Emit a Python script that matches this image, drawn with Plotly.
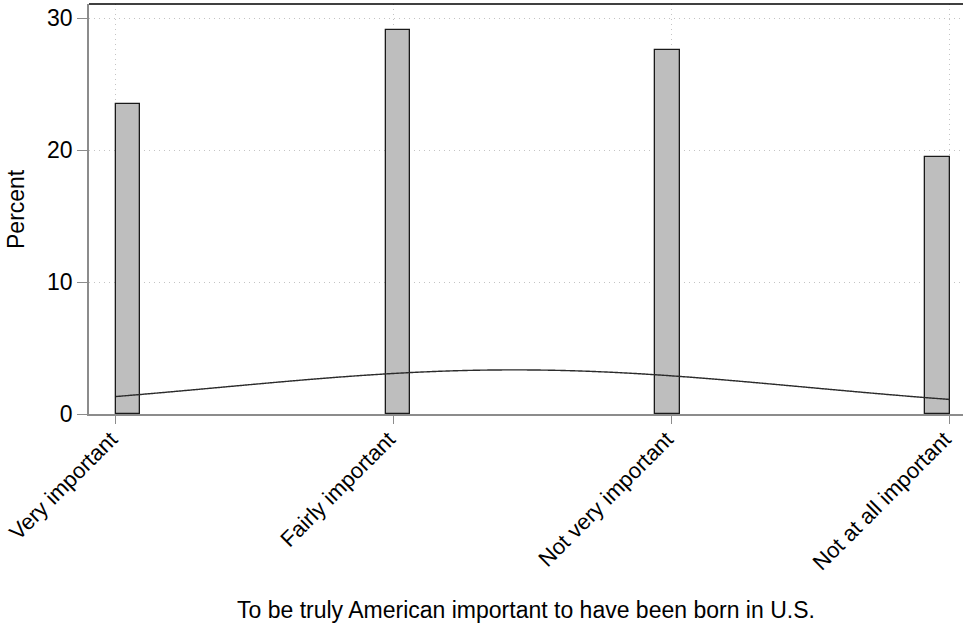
import numpy as np
import plotly.graph_objects as go

# Response categories (coded 1..4) and share of respondents in each, in percent
categories = ["Very important", "Fairly important", "Not very important", "Not at all important"]
codes = [1, 2, 3, 4]
percent = [23.5, 29.1, 27.6, 19.5]

# Histogram binning over the 1..4 range
n_bins = 34
lo, hi = min(codes), max(codes)
binw = (hi - lo) / n_bins
bin_left = []
for c in codes:
    k = min(int(np.floor((c - lo) / binw + 1e-9)), n_bins - 1)
    bin_left.append(lo + k * binw)

# Normal density with the same mean / sd, scaled to percent per bin
v = np.array(codes, dtype=float)
w = np.array(percent, dtype=float) / np.sum(percent)
mu = float(np.sum(w * v))
sd = float(np.sqrt(np.sum(w * (v - mu) ** 2)))
xs = np.linspace(lo, hi, 400)
ys = np.exp(-0.5 * ((xs - mu) / sd) ** 2) / (sd * np.sqrt(2 * np.pi)) * binw * 100

FONT = "Liberation Sans, Arial, Helvetica, sans-serif"
AXIS_GREY = "#8c8c8c"
GRID = "#c4c4c4"

fig = go.Figure()
fig.add_trace(go.Bar(
    x=bin_left, y=percent, width=binw, offset=0,
    marker=dict(color="#bebebe", line=dict(color="#1a1a1a", width=1.3)),
    hoverinfo="y", showlegend=False,
))
fig.add_trace(go.Scatter(
    x=xs, y=ys, mode="lines", line_shape="spline",
    line=dict(color="#2b2b2b", width=1.4),
    hoverinfo="skip", showlegend=False,
))

fig.update_layout(
    width=963, height=625,
    margin=dict(l=89, r=0, t=4, b=211),
    paper_bgcolor="white", plot_bgcolor="white",
    font=dict(family=FONT, size=23, color="black"),
    bargap=0,
    xaxis=dict(
        range=[0.903, 4.048], automargin=False,
        tickmode="array", tickvals=codes, ticktext=categories,
        tickangle=-45,
        ticks="outside", ticklen=8, tickwidth=1.2, tickcolor=AXIS_GREY,
        ticklabelshift=-5, ticklabelstandoff=-6, ticklabeloverflow="allow",
        showline=True, linecolor=AXIS_GREY, linewidth=1.6,
        showgrid=True, gridcolor=GRID, griddash="1px,4px", gridwidth=1,
        zeroline=False,
        tickfont=dict(family=FONT, size=22, color="black"),
    ),
    yaxis=dict(
        range=[0, 31.08], automargin=False,
        tickmode="array", tickvals=[0, 10, 20, 30],
        ticks="outside", ticklen=10, tickwidth=1.2, tickcolor=AXIS_GREY,
        showline=True, linecolor=AXIS_GREY, linewidth=1.6,
        showgrid=True, gridcolor=GRID, griddash="1px,4px", gridwidth=1,
        zeroline=False,
        tickfont=dict(family=FONT, size=23, color="black"),
    ),
    shapes=[
        # plot region border along the top
        dict(type="line", xref="paper", yref="paper", x0=0, x1=1, y0=1, y1=1,
             line=dict(color="black", width=1.6)),
    ],
    annotations=[
        dict(text="Percent", xref="paper", yref="paper",
             x=(16 - 89) / 874, y=0.5, xanchor="center", yanchor="middle",
             textangle=-90, showarrow=False,
             font=dict(family=FONT, size=23, color="black")),
        dict(text="To be truly American important to have been born in U.S.",
             xref="paper", yref="paper",
             x=0.5, y=(414 - 610) / 410, xanchor="center", yanchor="middle",
             showarrow=False,
             font=dict(family=FONT, size=23, color="black")),
    ],
)

fig.write_html("out.html")
